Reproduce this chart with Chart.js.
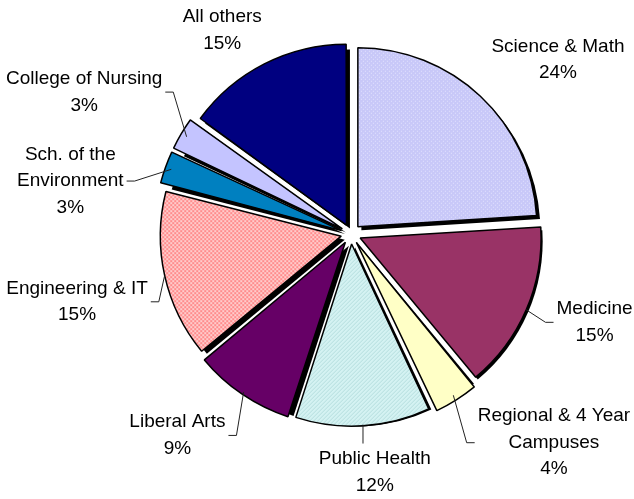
<!DOCTYPE html>
<html>
<head>
<meta charset="utf-8">
<script src="https://cdn.jsdelivr.net/npm/chart.js@4.4.0/dist/chart.umd.min.js"></script>
<style>
  html, body { margin: 0; padding: 0; background: #fff; }
</style>
</head>
<body>
<canvas id="pieChart" width="634" height="499"></canvas>
<script>
// data, clockwise from 12 o'clock
const schools = ['Science & Math', 'Medicine', 'Regional & 4 Year\nCampuses', 'Public Health',
  'Liberal Arts', 'Engineering & IT', 'Sch. of the\nEnvironment', 'College of Nursing', 'All others'];
const shares = [24, 15, 4, 12, 9, 15, 3, 3, 15];
const shareLabels = ['24%', '15%', '4%', '12%', '9%', '15%', '3%', '3%', '15%'];

// label nudges away from the default "outside" spot, plus whether a leader line is drawn
const labelShift = [
  { dx: 17, dy: -1, leader: false },
  { dx: 15, dy: -6, leader: true },
  { dx: 49, dy: -3, leader: true },
  { dx: 7, dy: 1, leader: true },
  { dx: -28, dy: 5, leader: true },
  { dx: 1, dy: 16, leader: true },
  { dx: -32, dy: 32, leader: true },
  { dx: -18, dy: -21, leader: true },
  { dx: -15, dy: 8, leader: false }
];

const EXPLODE = 10;   // px each slice is pulled out
const FONT = '19px "Liberation Sans", Arial, sans-serif';
const LINE_H = 26.5;

function makePattern(size, draw) {
  const c = document.createElement('canvas');
  c.width = size; c.height = size;
  const g = c.getContext('2d');
  draw(g);
  return document.getElementById('pieChart').getContext('2d').createPattern(c, 'repeat');
}

const sciencePat = makePattern(4, g => {
  g.fillStyle = '#c8c8f8'; g.fillRect(0, 0, 4, 4);
  g.fillStyle = '#e4e4ff';
  g.fillRect(0, 0, 1, 1); g.fillRect(2, 2, 1, 1);
});
const engPat = makePattern(4, g => {
  g.fillStyle = '#ff8c8c'; g.fillRect(0, 0, 4, 4);
  g.fillStyle = '#ffcccc';
  g.fillRect(0, 0, 2, 2); g.fillRect(2, 2, 2, 2);
});
const healthPat = makePattern(4, g => {
  g.fillStyle = '#d4f2f2'; g.fillRect(0, 0, 4, 4);
  g.fillStyle = '#b4dede';
  for (let i = 0; i < 4; i++) g.fillRect(i, 3 - i, 1, 1);
});

const fills = [sciencePat, '#993366', '#ffffc6', healthPat, '#660066', engPat, '#0080c0', '#c4c4ff', '#000080'];

// solid black drop shadow behind each exploded slice
const shadowPlugin = {
  id: 'sliceShadow',
  beforeDatasetsDraw(chart) {
    const ctx = chart.ctx;
    const arcs = chart.getDatasetMeta(0).data;
    ctx.save();
    ctx.fillStyle = '#000';
    arcs.forEach(arc => {
      const mid = (arc.startAngle + arc.endAngle) / 2;
      const x = arc.x + Math.cos(mid) * EXPLODE + 3.5;
      const y = arc.y + Math.sin(mid) * EXPLODE + 3.5;
      ctx.beginPath();
      ctx.moveTo(x, y);
      ctx.arc(x, y, arc.outerRadius, arc.startAngle, arc.endAngle);
      ctx.closePath();
      ctx.fill();
    });
    ctx.restore();
  }
};

function drawLeader(ctx, px, py, box) {
  ctx.beginPath();
  ctx.moveTo(px, py);
  if (px >= box.l && px <= box.r) {
    const ey = py < box.t ? box.t - 2 : box.b + 2;
    ctx.lineTo(px, ey);
  } else {
    const dir = px < box.l ? -1 : 1;
    const side = px < box.l ? box.l : box.r;
    ctx.lineTo(side + dir * 11, box.cy);
    ctx.lineTo(side + dir * 3, box.cy);
  }
  ctx.stroke();
}

const labelPlugin = {
  id: 'outsideLabels',
  afterDraw(chart) {
    const ctx = chart.ctx;
    const arcs = chart.getDatasetMeta(0).data;
    ctx.save();
    ctx.font = FONT;
    ctx.fillStyle = '#000';
    ctx.strokeStyle = '#222';
    ctx.lineWidth = 1;
    ctx.textAlign = 'center';
    ctx.textBaseline = 'middle';
    arcs.forEach((arc, i) => {
      const mid = (arc.startAngle + arc.endAngle) / 2;
      const ux = Math.cos(mid), uy = Math.sin(mid);
      const lines = schools[i].split('\n').concat(shareLabels[i]);
      const w = Math.max(...lines.map(s => ctx.measureText(s).width));
      const h = lines.length * LINE_H;
      const reach = arc.outerRadius + EXPLODE + 22;
      const cx = arc.x + ux * reach + ux * w / 2 + labelShift[i].dx;
      const cy = arc.y + uy * reach + uy * h / 2 + labelShift[i].dy;
      lines.forEach((s, k) => {
        ctx.fillText(s, cx, cy - h / 2 + LINE_H * (k + 0.5));
      });
      if (labelShift[i].leader) {
        const r = arc.outerRadius + EXPLODE + 2;
        const box = { l: cx - w / 2, r: cx + w / 2, t: cy - h / 2, b: cy + h / 2, cy: cy };
        drawLeader(ctx, arc.x + ux * r, arc.y + uy * r, box);
      }
    });
    ctx.restore();
  }
};

new Chart('pieChart', {
  type: 'pie',
  data: {
    labels: schools,
    datasets: [{
      data: shares,
      backgroundColor: fills,
      borderColor: '#000',
      borderWidth: 1.5,
      offset: EXPLODE * 4,
      radius: 179
    }]
  },
  options: {
    responsive: false,
    animation: false,
    layout: { padding: { left: 68, right: 0, top: 0, bottom: 31 } },
    plugins: {
      legend: { display: false },
      tooltip: { enabled: false }
    }
  },
  plugins: [shadowPlugin, labelPlugin]
});
</script>
</body>
</html>
